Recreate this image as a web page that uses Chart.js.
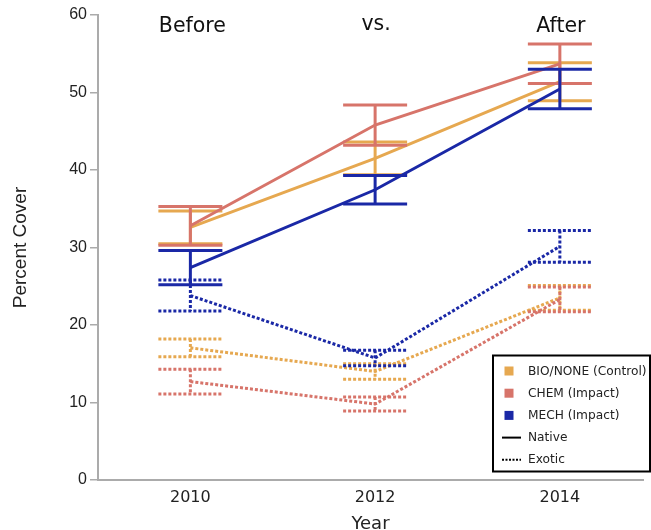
<!DOCTYPE html>
<html>
<head>
<meta charset="utf-8">
<script src="https://cdn.jsdelivr.net/npm/chart.js@4/dist/chart.umd.min.js"></script>
<style>
  html, body { margin: 0; padding: 0; background: #ffffff; }
  #wrap { width: 651px; height: 530px; }
</style>
</head>
<body>
<div id="wrap"><canvas id="c" width="651" height="530"></canvas></div>
<script>
// Survey years and phase labels shown above them
const years = [2010, 2012, 2014];
const phaseLabels = ['Before', 'vs.', 'After'];
const yTicks = [0, 10, 20, 30, 40, 50, 60];

// Treatment names and line-type names for the legend
const treatmentNames = ['BIO/NONE (Control)', 'CHEM (Impact)', 'MECH (Impact)'];
const coverTypes = ['Native', 'Exotic'];

// Mean percent cover of native species, with error half-widths
const bioNative = [32.6, 41.5, 51.4];
const bioNativeErr = [2.1, 2.1, 2.45];
const chemNative = [32.8, 45.8, 53.7];
const chemNativeErr = [2.5, 2.6, 2.55];
const mechNative = [27.4, 37.45, 50.45];
const mechNativeErr = [2.2, 1.85, 2.55];

// Mean percent cover of exotic species, with error half-widths
const bioExotic = [17.05, 14.0, 23.5];
const bioExoticErr = [1.15, 1.0, 1.6];
const chemExotic = [12.7, 9.8, 23.3];
const chemExoticErr = [1.6, 0.9, 1.6];
const mechExotic = [23.8, 15.75, 30.15];
const mechExoticErr = [2.0, 1.0, 2.05];

const ORANGE = '#E6A850';
const RED = '#D7746A';
const BLUE = '#1A28A6';
const DOTS = [3, 2];
const CAP_HALF = 32;

function series(label, values, errors, color, dotted) {
  return {
    label: label,
    data: years.map((yr, i) => ({ x: yr, y: values[i] })),
    errors: errors,
    borderColor: color,
    backgroundColor: color,
    borderWidth: 3,
    borderDash: dotted ? DOTS : [],
    borderCapStyle: 'butt',
    pointRadius: 0,
    pointHoverRadius: 0,
    tension: 0,
    fill: false
  };
}

// Error bars with caps, drawn right after their own line so layering follows the datasets
const errorBars = {
  id: 'errorBars',
  afterDatasetDraw(chart, args) {
    const ds = chart.data.datasets[args.index];
    if (!ds.errors) return;
    const ctx = chart.ctx;
    const xs = chart.scales.x, ys = chart.scales.y;
    ctx.save();
    ctx.strokeStyle = ds.borderColor;
    ctx.lineWidth = ds.borderWidth;
    ctx.lineCap = 'butt';
    ctx.setLineDash(ds.borderDash || []);
    ds.data.forEach((p, i) => {
      const e = ds.errors[i];
      const x = xs.getPixelForValue(p.x);
      const yHi = ys.getPixelForValue(p.y + e);
      const yLo = ys.getPixelForValue(p.y - e);
      ctx.beginPath();
      ctx.moveTo(x, yHi); ctx.lineTo(x, yLo);
      ctx.stroke();
      ctx.beginPath();
      ctx.moveTo(x - CAP_HALF, yHi); ctx.lineTo(x + CAP_HALF, yHi);
      ctx.stroke();
      ctx.beginPath();
      ctx.moveTo(x - CAP_HALF, yLo); ctx.lineTo(x + CAP_HALF, yLo);
      ctx.stroke();
    });
    ctx.restore();
  }
};

// Phase labels above each survey year
const phaseText = {
  id: 'phaseText',
  afterDraw(chart) {
    const ctx = chart.ctx;
    const xs = chart.scales.x;
    const baselines = [32, 29.5, 32];
    ctx.save();
    ctx.fillStyle = '#111111';
    ctx.font = '20.5px "DejaVu Sans"';
    ctx.textAlign = 'center';
    ctx.textBaseline = 'alphabetic';
    phaseLabels.forEach((t, i) => {
      ctx.fillText(t, xs.getPixelForValue(years[i]) + (i === 0 ? 2 : 1), baselines[i]);
    });
    ctx.restore();
  }
};

// Boxed legend: treatment colour swatches, then native/exotic line styles
const boxLegend = {
  id: 'boxLegend',
  afterDraw(chart) {
    const ctx = chart.ctx;
    const box = { l: 493, t: 355.5, r: 650, b: 471.5 };
    const rowY = [371, 393.2, 415.4, 437.6, 459.8];
    const colors = [ORANGE, RED, BLUE];
    ctx.save();
    ctx.fillStyle = '#ffffff';
    ctx.fillRect(box.l, box.t, box.r - box.l, box.b - box.t);
    ctx.strokeStyle = '#000000';
    ctx.lineWidth = 2;
    ctx.strokeRect(box.l, box.t, box.r - box.l, box.b - box.t);
    ctx.font = '12.2px "DejaVu Sans"';
    ctx.textBaseline = 'middle';
    ctx.textAlign = 'left';
    treatmentNames.forEach((name, i) => {
      ctx.fillStyle = colors[i];
      ctx.fillRect(504.5, rowY[i] - 4.5, 9, 9);
      ctx.fillStyle = '#222222';
      ctx.fillText(name, 528, rowY[i] + 0.5);
    });
    coverTypes.forEach((name, j) => {
      const y = rowY[3 + j];
      ctx.strokeStyle = '#000000';
      ctx.lineWidth = 2;
      ctx.setLineDash(j === 0 ? [] : [2, 1.5]);
      ctx.beginPath();
      ctx.moveTo(502, y); ctx.lineTo(521, y);
      ctx.stroke();
      ctx.setLineDash([]);
      ctx.fillStyle = '#222222';
      ctx.fillText(name, 528, y + 0.5);
    });
    ctx.restore();
  }
};

new Chart(document.getElementById('c'), {
  type: 'line',
  data: {
    datasets: [
      series('MECH (Impact) Native', mechNative, mechNativeErr, BLUE, false),
      series('CHEM (Impact) Native', chemNative, chemNativeErr, RED, false),
      series('BIO/NONE (Control) Native', bioNative, bioNativeErr, ORANGE, false),
      series('MECH (Impact) Exotic', mechExotic, mechExoticErr, BLUE, true),
      series('CHEM (Impact) Exotic', chemExotic, chemExoticErr, RED, true),
      series('BIO/NONE (Control) Exotic', bioExotic, bioExoticErr, ORANGE, true)
    ]
  },
  options: {
    responsive: false,
    devicePixelRatio: 1,
    animation: false,
    events: [],
    layout: { padding: { top: 15, right: 8, left: 0, bottom: 0 } },
    plugins: {
      legend: { display: false },
      tooltip: { enabled: false },
      title: { display: false }
    },
    scales: {
      x: {
        type: 'linear',
        min: 2009,
        max: 2014.9,
        afterBuildTicks(scale) { scale.ticks = years.map(v => ({ value: v })); },
        afterFit(scale) { scale.height = 50; },
        grid: { display: false, drawTicks: false },
        border: { display: true, color: '#ababab', width: 2 },
        ticks: {
          padding: 8,
          color: '#222222',
          font: { family: '"DejaVu Sans"', size: 16 },
          callback: v => String(v)
        },
        title: {
          display: true,
          text: 'Year',
          color: '#222222',
          font: { family: '"DejaVu Sans"', size: 18, lineHeight: 1 },
          padding: { top: 0, bottom: -3 }
        }
      },
      y: {
        min: 0,
        max: 60,
        afterBuildTicks(scale) { scale.ticks = yTicks.map(v => ({ value: v })); },
        afterFit(scale) { scale.width = 98; },
        grid: { drawOnChartArea: false, drawTicks: true, tickLength: 8, color: '#ababab', lineWidth: 1.5 },
        border: { display: true, color: '#ababab', width: 2 },
        ticks: {
          padding: 3,
          color: '#222222',
          font: { family: '"Liberation Sans"', size: 16 }
        },
        title: {
          display: true,
          text: 'Percent Cover',
          color: '#222222',
          font: { family: '"Liberation Sans"', size: 19, lineHeight: 1.2 },
          padding: { top: 9, bottom: 0 }
        }
      }
    }
  },
  plugins: [errorBars, phaseText, boxLegend]
});
</script>
</body>
</html>
